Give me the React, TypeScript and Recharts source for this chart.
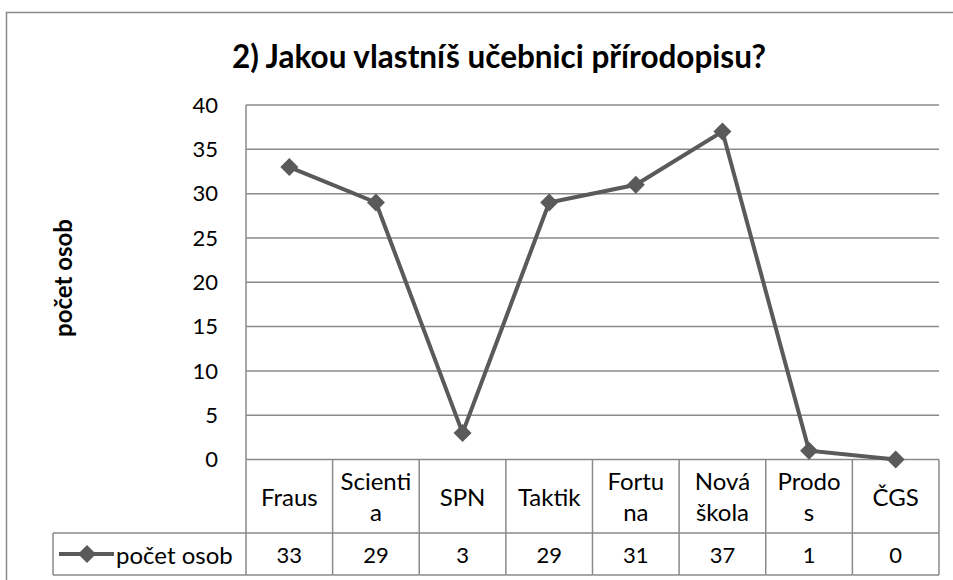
import React from 'react';
import { LineChart, Line, XAxis, YAxis, CartesianGrid, Customized } from 'recharts';

const categories = ['Fraus', 'Scientia', 'SPN', 'Taktik', 'Fortuna', 'Nová škola', 'Prodos', 'ČGS'];
const categoryLines = [['Fraus'], ['Scienti', 'a'], ['SPN'], ['Taktik'], ['Fortu', 'na'], ['Nová', 'škola'], ['Prodo', 's'], ['ČGS']];
const values = [33, 29, 3, 29, 31, 37, 1, 0];
const yTicks = [0, 5, 10, 15, 20, 25, 30, 35, 40];
const seriesName = 'počet osob';
const title = '2) Jakou vlastníš učebnici přírodopisu?';

const data = categories.map((c, i) => ({ name: c, value: values[i] }));

const FONT = 'Lato, "Open Sans", sans-serif';
const GRID = '#8a8a8a';
const LINE = '#5a5a5a';

const W = 953;
const H = 580;
const ROW1 = 73.5;
const ROW2 = 42;

const Diamond = (props: any) => {
  const { cx, cy } = props;
  if (cx == null || cy == null) return null;
  const r = 9;
  return <path d={`M${cx},${cy - r}L${cx + r},${cy}L${cx},${cy + r}L${cx - r},${cy}Z`} fill={LINE} stroke="none" />;
};

const TableTick = (props: any) => {
  const { x, y, payload, index } = props;
  const i = payload?.index ?? index;
  const bw = 86.6;
  const left = x - bw / 2;
  const right = x + bw / 2;
  const lines = categoryLines[i] || [payload.value];
  const mid = y + ROW1 / 2;
  const lh = 31;
  const startY = mid - ((lines.length - 1) * lh) / 2;
  return (
    <g>
      <line x1={right} y1={y} x2={right} y2={y + ROW1 + ROW2} stroke={GRID} strokeWidth={1.5} />
      {i === 0 && <line x1={left} y1={y} x2={left} y2={y + ROW1 + ROW2} stroke={GRID} strokeWidth={1.5} />}
      <line x1={left} y1={y + ROW1} x2={right} y2={y + ROW1} stroke={GRID} strokeWidth={1.5} />
      <line x1={left} y1={y + ROW1 + ROW2} x2={right} y2={y + ROW1 + ROW2} stroke={GRID} strokeWidth={1.5} />
      {lines.map((t: string, k: number) => (
        <text key={k} x={x} y={startY + k * lh} textAnchor="middle" dominantBaseline="central" fontFamily={FONT} fontSize={24} fill="#000">
          {t}
        </text>
      ))}
      <text x={x} y={y + ROW1 + ROW2 / 2} textAnchor="middle" dominantBaseline="central" fontFamily={FONT} fontSize={22} fill="#000">
        {values[i]}
      </text>
      {i === 0 && (
        <g>
          <line x1={53} y1={y + ROW1} x2={left} y2={y + ROW1} stroke={GRID} strokeWidth={1.5} />
          <line x1={53} y1={y + ROW1 + ROW2} x2={left} y2={y + ROW1 + ROW2} stroke={GRID} strokeWidth={1.5} />
          <line x1={53} y1={y + ROW1} x2={53} y2={y + ROW1 + ROW2} stroke={GRID} strokeWidth={1.5} />
          <line x1={59} y1={y + ROW1 + ROW2 / 2} x2={114} y2={y + ROW1 + ROW2 / 2} stroke={LINE} strokeWidth={4} />
          <Diamond cx={87} cy={y + ROW1 + ROW2 / 2} />
          <text x={116} y={y + ROW1 + ROW2 / 2} dominantBaseline="central" fontFamily={FONT} fontSize={24} fill="#000">
            {seriesName}
          </text>
        </g>
      )}
    </g>
  );
};

const Decor = () => (
  <g>
    <rect x={6.5} y={12.5} width={W} height={H} fill="none" stroke="#8a8a8a" strokeWidth={1.5} />
    <text x={499} y={56} textAnchor="middle" dominantBaseline="central" fontFamily={FONT} fontWeight="bold" fontSize={31.5} fill="#000">
      {title}
    </text>
    <text x={62} y={278} textAnchor="middle" dominantBaseline="central" fontFamily={FONT} fontWeight="bold" fontSize={24} fill="#000" transform="rotate(-90 62 278)">
      {seriesName}
    </text>
  </g>
);

export default function App() {
  return (
    <div style={{ position: 'absolute', left: 0, top: 0, width: W, height: H, background: '#fff' }}>
      <LineChart width={W} height={H} data={data} margin={{ top: 105, right: 14, left: 186, bottom: 0 }}>
        <Customized component={Decor} />
        <CartesianGrid vertical={false} stroke={GRID} strokeWidth={1.5} />
        <XAxis
          dataKey="name"
          scale="band"
          interval={0}
          height={120.5}
          axisLine={false}
          tickLine={false}
          tickSize={0}
          tickMargin={0}
          tick={<TableTick />}
        />
        <YAxis
          domain={[0, 40]}
          ticks={yTicks}
          width={60}
          axisLine={{ stroke: GRID, strokeWidth: 1.5 }}
          tickLine={false}
          tickMargin={22}
          tick={{ fontFamily: FONT, fontSize: 22, fill: '#000' }}
        />
        <Line dataKey="value" stroke={LINE} strokeWidth={4} dot={<Diamond />} isAnimationActive={false} />
      </LineChart>
    </div>
  );
}
